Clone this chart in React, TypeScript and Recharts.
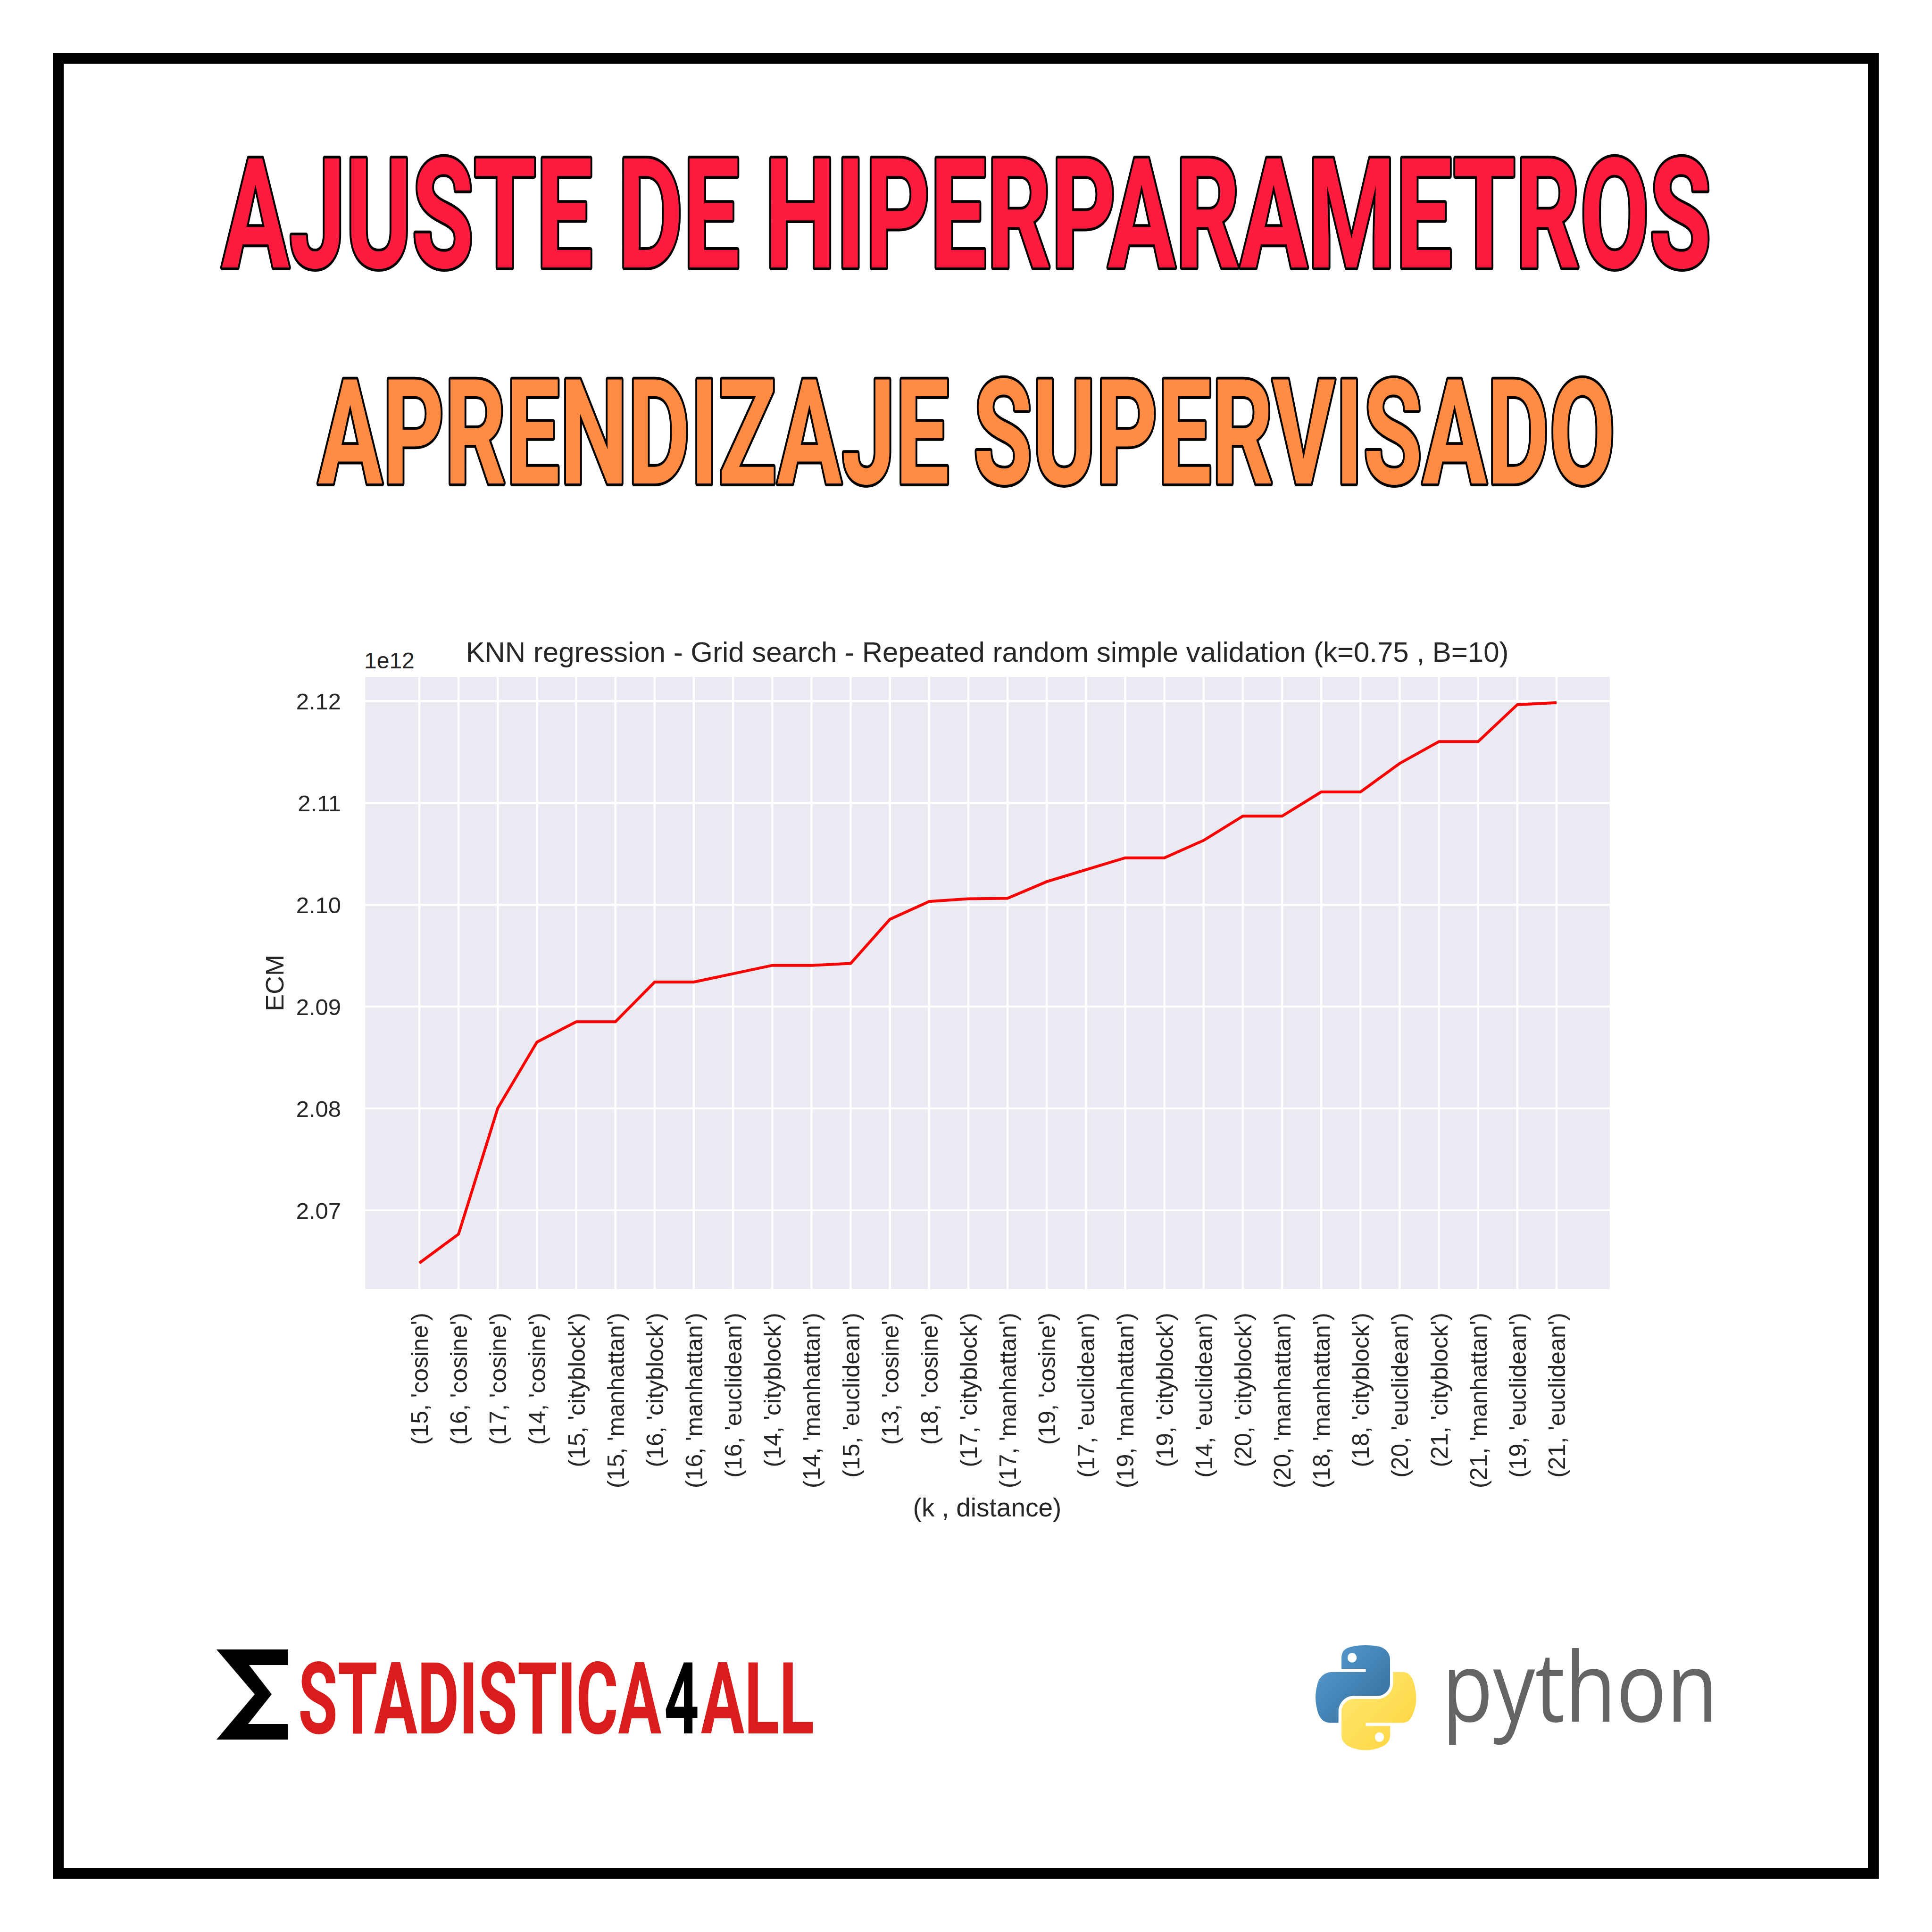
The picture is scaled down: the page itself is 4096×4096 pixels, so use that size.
import React, { useLayoutEffect, useRef, useState } from 'react';
import { LineChart, Line, XAxis, YAxis, CartesianGrid } from 'recharts';

// k values and distance metrics (x categories)
const kValues = [15, 16, 17, 14, 15, 15, 16, 16, 16, 14, 14, 15, 13, 18, 17, 17, 19, 17, 19, 19, 14, 20, 20, 18, 18, 20, 21, 21, 19, 21];
const distances = [
  'cosine', 'cosine', 'cosine', 'cosine', 'cityblock', 'manhattan', 'cityblock', 'manhattan', 'euclidean', 'cityblock',
  'manhattan', 'euclidean', 'cosine', 'cosine', 'cityblock', 'manhattan', 'cosine', 'euclidean', 'manhattan', 'cityblock',
  'euclidean', 'cityblock', 'manhattan', 'manhattan', 'cityblock', 'euclidean', 'cityblock', 'manhattan', 'euclidean', 'euclidean',
];
// ECM values (mean squared error)
const ecmValues = [
  2.06482e12, 2.06766e12, 2.08002e12, 2.08652e12, 2.08851e12, 2.08851e12, 2.09241e12, 2.09241e12, 2.09323e12, 2.09405e12,
  2.09405e12, 2.09424e12, 2.09857e12, 2.10032e12, 2.10059e12, 2.10063e12, 2.10227e12, 2.10344e12, 2.10461e12, 2.10461e12,
  2.10632e12, 2.1087e12, 2.1087e12, 2.11108e12, 2.11108e12, 2.11388e12, 2.11602e12, 2.11602e12, 2.11965e12, 2.11984e12,
];
const yTicks = [2.07e12, 2.08e12, 2.09e12, 2.10e12, 2.11e12, 2.12e12];
const yDomain = [2.06217e12, 2.12247e12];

const data = kValues.map((k, i) => ({
  label: `(${k}, '${distances[i]}')`,
  ecm: ecmValues[i],
}));

const FONT = '"Liberation Sans", Arial, Helvetica, sans-serif';
const HEAD_FONT = 'Roboto, "Liberation Sans", sans-serif';
const TXT = '#262626';

const XTick = (props: any) => {
  const { x, y, payload } = props;
  return (
    <g transform={`translate(${x},${y})`}>
      <text transform="rotate(-90)" textAnchor="end" dy="0.36em" fontSize={50} fill={TXT} fontFamily={FONT}>
        {payload.value}
      </text>
    </g>
  );
};

const YTick = (props: any) => {
  const { x, y, payload } = props;
  return (
    <text x={x} y={y} dy="0.36em" textAnchor="end" fontSize={49} fill={TXT} fontFamily={FONT}>
      {(payload.value / 1e12).toFixed(2)}
    </text>
  );
};

// Text stretched/condensed horizontally to fit an exact width
const FitText = (props: any) => {
  const { x, y, width, children, ...rest } = props;
  const ref = useRef<SVGTextElement>(null);
  const [sx, setSx] = useState(1);
  useLayoutEffect(() => {
    const measure = () => {
      const el = ref.current;
      if (!el) return;
      const w = el.getComputedTextLength();
      if (w > 0) setSx(width / w);
    };
    measure();
    if ((document as any).fonts && (document as any).fonts.ready) {
      (document as any).fonts.ready.then(measure);
    }
  }, [width]);
  return (
    <text ref={ref} x={0} y={0} transform={`translate(${x},${y}) scale(${sx},1)`} {...rest}>
      {children}
    </text>
  );
};

const PY_BLUE =
  'M 54.918785,0.00091927 C 50.335132,0.02221727 45.957846,0.41313697 42.106285,1.0946693 30.760069,3.0991731 28.700036,7.2947714 28.700035,15.032169 v 10.21875 h 26.8125 v 3.40625 h -26.8125 -10.0625 c -7.792459,0 -14.6157588,4.683717 -16.7499998,13.59375 -2.46181998,10.212966 -2.57101508,16.586023 0,27.25 1.9059283,7.937852 6.4575432,13.593748 14.2499998,13.59375 h 9.21875 v -12.25 c 0,-8.849902 7.657144,-16.656248 16.75,-16.65625 h 26.78125 c 7.454951,0 13.406253,-6.138164 13.40625,-13.625 v -25.53125 c 0,-7.2663386 -6.12998,-12.7247771 -13.40625,-13.9374997 C 64.281548,0.32794397 59.502438,-0.02037903 54.918785,0.00091927 Z m -14.5,8.21875 c 2.769547,0 5.03125,2.2986456 5.03125,5.1249996 0,2.816336 -2.261703,5.09375 -5.03125,5.09375 -2.779476,0 -5.03125,-2.277415 -5.03125,-5.09375 0,-2.826353 2.251774,-5.1249996 5.03125,-5.1249996 z';
const PY_YELLOW =
  'm 85.637535,28.657169 v 11.90625 c 0,9.230755 -7.825895,16.999999 -16.75,17 h -26.78125 c -7.335833,0 -13.406249,6.278483 -13.40625,13.625 v 25.531247 c 0,7.266344 6.318588,11.540324 13.40625,13.625004 8.487331,2.49561 16.626237,2.94663 26.78125,0 6.750155,-1.95439 13.406253,-5.88761 13.40625,-13.625004 V 86.500919 h -26.78125 v -3.40625 h 26.78125 13.406254 c 7.792461,0 10.696251,-5.435408 13.406241,-13.59375 2.79933,-8.398886 2.68022,-16.475776 0,-27.25 -1.92578,-7.757441 -5.60387,-13.59375 -13.406241,-13.59375 z m -15.0625,64.65625 c 2.779478,0 5.03125,2.277417 5.03125,5.093747 0,2.826354 -2.251775,5.125004 -5.03125,5.125004 -2.76955,0 -5.03125,-2.29865 -5.03125,-5.125004 0,-2.81633 2.261697,-5.093747 5.03125,-5.093747 z';

const Decorations = () => (
  <svg width={4096} height={4096} style={{ position: 'absolute', left: 0, top: 0, pointerEvents: 'none' }}>
    <defs>
      <linearGradient id="pyBlue" x1="0" y1="0" x2="1" y2="1">
        <stop offset="0" stopColor="#5A9FD4" />
        <stop offset="1" stopColor="#306998" />
      </linearGradient>
      <linearGradient id="pyYellow" x1="0" y1="0" x2="1" y2="1">
        <stop offset="0" stopColor="#FFE873" />
        <stop offset="1" stopColor="#FFD43B" />
      </linearGradient>
    </defs>
    {/* frame */}
    <rect x={123.5} y={123.5} width={3848} height={3848} fill="none" stroke="#000" strokeWidth={23} />
    {/* headline */}
    <FitText
      x={470}
      y={567}
      width={3158}
      fontSize={325}
      fontWeight="bold"
      fontFamily={HEAD_FONT}
      fill="#FF1B3D"
      stroke="#000"
      strokeWidth={10}
      strokeLinejoin="round"
      paintOrder="stroke"
      vectorEffect="non-scaling-stroke"
    >
      AJUSTE DE HIPERPARAMETROS
    </FitText>
    <FitText
      x={674}
      y={1025}
      width={2751}
      fontSize={310}
      fontWeight="bold"
      fontFamily={HEAD_FONT}
      fill="#FF8C42"
      stroke="#000"
      strokeWidth={10}
      strokeLinejoin="round"
      paintOrder="stroke"
      vectorEffect="non-scaling-stroke"
    >
      APRENDIZAJE SUPERVISADO
    </FitText>
    {/* chart texts */}
    <text x={2093} y={1403} textAnchor="middle" fontSize={60} fill={TXT} fontFamily={FONT}>
      KNN regression - Grid search - Repeated random simple validation (k=0.75 , B=10)
    </text>
    <text x={772} y={1417} fontSize={48} fill={TXT} fontFamily={FONT}>
      1e12
    </text>
    <text
      transform="translate(582,2084) rotate(-90)"
      textAnchor="middle"
      dy="0.36em"
      fontSize={54}
      fill={TXT}
      fontFamily={FONT}
    >
      ECM
    </text>
    <text x={2093} y={3215} textAnchor="middle" fontSize={55} fill={TXT} fontFamily={FONT}>
      (k , distance)
    </text>
    {/* Estadistica4all logo */}
    <path d="M459,3497 H610 V3530 H528 L576,3592 L526,3655 H610 V3688 H459 L540,3592 Z" fill="#000" />
    <FitText x={632} y={3675} width={770} fontSize={211} fontWeight="bold" fontFamily={HEAD_FONT} fill="#D91C1C">
      STADISTICA
    </FitText>
    <FitText x={1408} y={3675} width={74} fontSize={211} fontWeight="bold" fontFamily={HEAD_FONT} fill="#000">
      4
    </FitText>
    <FitText x={1486} y={3675} width={240} fontSize={211} fontWeight="bold" fontFamily={HEAD_FONT} fill="#D91C1C">
      ALL
    </FitText>
    {/* python logo */}
    <g transform="translate(2789,3488) scale(1.92,1.98)">
      <path d={PY_BLUE} fill="url(#pyBlue)" />
      <path d={PY_YELLOW} fill="url(#pyYellow)" />
    </g>
    <FitText
      x={3057}
      y={3650}
      width={585}
      fontSize={205}
      fontFamily='"Open Sans", "DejaVu Sans", sans-serif'
      fill="#646464"
    >
      python
    </FitText>
  </svg>
);

export default function App() {
  return (
    <div style={{ position: 'absolute', left: 0, top: 0, width: 4096, height: 4096, background: '#fff' }}>
      <div style={{ position: 'absolute', left: 0, top: 0 }}>
        <LineChart
          width={4096}
          height={4096}
          data={data}
          margin={{ top: 1433, right: 681, bottom: 861, left: 522 }}
        >
          <CartesianGrid fill="#EAEAF2" fillOpacity={1} stroke="#FFFFFF" strokeWidth={4.5} />
          <XAxis
            dataKey="label"
            type="category"
            interval={0}
            padding={{ left: 117, right: 115 }}
            axisLine={false}
            tickLine={false}
            tickSize={0}
            tickMargin={48}
            height={500}
            tick={<XTick />}
          />
          <YAxis
            type="number"
            domain={yDomain}
            ticks={yTicks}
            allowDataOverflow
            axisLine={false}
            tickLine={false}
            tickSize={0}
            tickMargin={49}
            width={250}
            tick={<YTick />}
          />
          <Line
            type="linear"
            dataKey="ecm"
            stroke="#FF0000"
            strokeWidth={6}
            dot={false}
            activeDot={false}
            isAnimationActive={false}
          />
        </LineChart>
      </div>
      <Decorations />
    </div>
  );
}
